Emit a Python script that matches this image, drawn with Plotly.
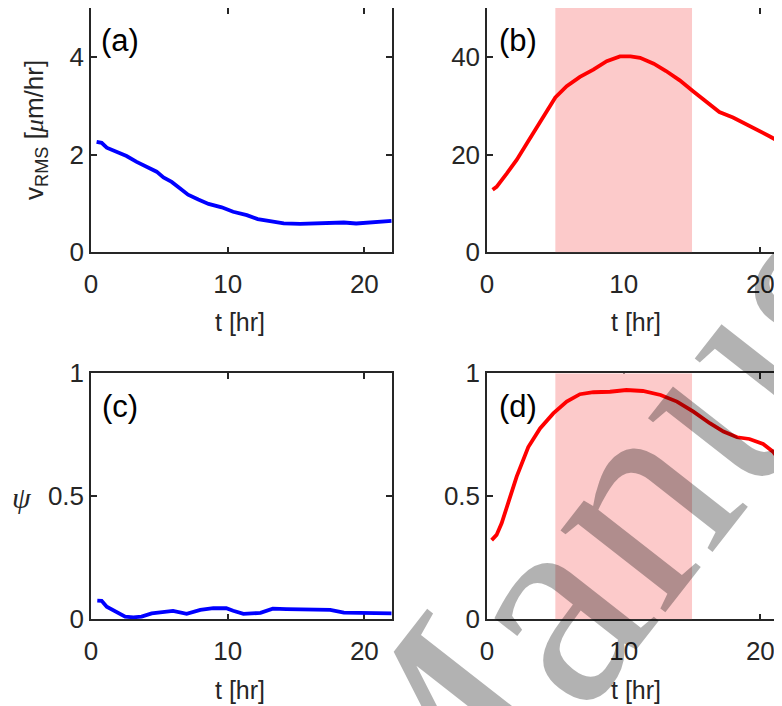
import plotly.graph_objects as go

W, H = 782, 706          # browser window
OFF = 8                  # default page margin of the html body
FW, FH = W - OFF, H - OFF  # figure size so that it ends exactly at the window edge

# ---------------- data ----------------
t_a = [0.41, 0.78, 1.15, 1.88, 2.6, 3.34, 4.07, 4.8, 5.3, 5.9, 6.5, 7.1, 7.85, 8.6, 9.56,
       10.4, 11.4, 12.2, 13.1, 14.1, 15.3, 16.5, 17.7, 18.5, 19.4, 20.4, 21.4, 22.0]
v_a = [2.26, 2.24, 2.14, 2.05, 1.97, 1.85, 1.75, 1.65, 1.53, 1.44, 1.31, 1.18, 1.08, 0.99, 0.92,
       0.83, 0.76, 0.68, 0.64, 0.59, 0.58, 0.585, 0.605, 0.61, 0.59, 0.605, 0.63, 0.645]

t_b = [0.41, 0.7, 1.44, 2.17, 2.9, 3.63, 4.37, 5.0, 5.83, 6.8, 7.78, 8.76, 9.73, 10.5, 11.2,
       12.2, 13.1, 14.1, 15.1, 16.1, 17.0, 18.0, 19.0, 20.0, 20.7, 21.6, 22.0]
v_b = [12.8, 13.4, 16.1, 18.9, 22.2, 25.6, 29.0, 31.7, 34.0, 35.9, 37.4, 39.1, 40.1, 40.1, 39.8,
       38.6, 37.1, 35.2, 32.9, 30.6, 28.7, 27.6, 26.2, 24.7, 23.7, 22.3, 21.6]

t_c = [0.46, 0.78, 1.15, 1.76, 2.5, 3.1, 3.7, 4.44, 5.05, 6.0, 7.0, 8.0, 8.95, 9.9, 10.4,
       11.15, 12.4, 13.3, 14.3, 15.3, 16.5, 17.5, 18.5, 19.7, 20.9, 22.0]
psi_c = [0.076, 0.075, 0.051, 0.031, 0.011, 0.008, 0.011, 0.024, 0.028, 0.034, 0.022, 0.038,
         0.045, 0.045, 0.035, 0.022, 0.026, 0.043, 0.041, 0.039, 0.038, 0.038, 0.027, 0.026,
         0.027, 0.024]

t_d = [0.34, 0.7, 1.07, 1.44, 2.17, 3.02, 3.88, 4.85, 5.83, 6.8, 7.78, 9.0, 10.2, 11.4, 12.7,
       13.9, 15.1, 16.3, 17.3, 18.3, 19.2, 20.2, 20.95, 21.6, 22.0]
psi_d = [0.322, 0.343, 0.39, 0.458, 0.58, 0.70, 0.776, 0.837, 0.885, 0.915, 0.923, 0.925, 0.932,
         0.928, 0.912, 0.885, 0.844, 0.797, 0.763, 0.74, 0.733, 0.713, 0.68, 0.634, 0.60]

shade_t = [5, 15]           # shaded time window [hr]
x_ticks = [0, 10, 20]
y_ticks_a = [0, 2, 4]
y_ticks_b = [0, 20, 40]
y_ticks_cd = [0, 0.5, 1]
panel_labels = ["(a)", "(b)", "(c)", "(d)"]

# ---------------- layout geometry (window pixels) ----------------
AX_COL = "#262626"
FONT = "Liberation Sans, Arial, Helvetica, sans-serif"
SERIF = "Liberation Serif, Times New Roman, serif"

left_x = (91, 391.7)
right_x0 = 487
top_y = (5.7, 252.3)
bot_y = (373.3, 619.3)
px_per_hr = (left_x[1] - left_x[0]) / 22.0
right_xmax = (W - right_x0) / px_per_hr


def fx(p):
    return (p - OFF) / FW


def fy(p):
    return 1 - (p - OFF) / FH


def dom_x(a, b):
    return [max(fx(a), 0.0), min(fx(b), 1.0)]


def dom_y(top, bottom):
    return [max(fy(bottom), 0.0), min(fy(top), 1.0)]


fig = go.Figure()

blue = "#0000ff"
red = "#ff0000"
pink = "#fccaca"
LW = 3.8


def shade(xa, ya, ymax):
    fig.add_trace(go.Scatter(
        x=[shade_t[0], shade_t[1], shade_t[1], shade_t[0], shade_t[0]],
        y=[0, 0, ymax, ymax, 0], fill="toself", fillcolor=pink,
        mode="lines", line=dict(width=0, color=pink), hoverinfo="skip",
        xaxis=xa, yaxis=ya, showlegend=False))


fig.add_trace(go.Scatter(x=t_a, y=v_a, mode="lines", line=dict(color=blue, width=LW),
                         xaxis="x", yaxis="y", showlegend=False))
shade("x2", "y2", 50)
fig.add_trace(go.Scatter(x=t_b, y=v_b, mode="lines", line=dict(color=red, width=LW),
                         xaxis="x2", yaxis="y2", showlegend=False))
fig.add_trace(go.Scatter(x=t_c, y=psi_c, mode="lines", line=dict(color=blue, width=LW),
                         xaxis="x3", yaxis="y3", showlegend=False))
shade("x4", "y4", 1)
fig.add_trace(go.Scatter(x=t_d, y=psi_d, mode="lines", line=dict(color=red, width=LW),
                         xaxis="x4", yaxis="y4", showlegend=False))

common = dict(showline=True, linecolor=AX_COL, linewidth=1.5, ticks="inside", ticklen=6,
              tickwidth=1.5, tickcolor=AX_COL, showgrid=False, zeroline=False,
              layer="below traces", fixedrange=True, automargin=False,
              tickfont=dict(family=FONT, size=26, color=AX_COL))
xcommon = dict(common, ticklabelstandoff=8)

fig.update_layout(
    width=FW, height=FH, autosize=False,
    margin=dict(l=0, r=0, t=0, b=0, pad=0),
    paper_bgcolor="white", plot_bgcolor="white",
    xaxis=dict(domain=dom_x(*left_x), anchor="y", range=[0, 22], tickvals=x_ticks,
               mirror="ticks", **xcommon),
    yaxis=dict(domain=dom_y(*top_y), anchor="x", range=[0, 5], tickvals=y_ticks_a,
               mirror="ticks", **common),
    xaxis2=dict(domain=dom_x(right_x0, W), anchor="y2", range=[0, right_xmax],
                tickvals=x_ticks, mirror="ticks", **xcommon),
    yaxis2=dict(domain=dom_y(*top_y), anchor="x2", range=[0, 50], tickvals=y_ticks_b,
                **common),
    xaxis3=dict(domain=dom_x(*left_x), anchor="y3", range=[0, 22], tickvals=x_ticks,
                mirror="ticks", **xcommon),
    yaxis3=dict(domain=dom_y(*bot_y), anchor="x3", range=[0, 1], tickvals=y_ticks_cd,
                ticktext=["0", "0.5", "1"], mirror="ticks", **common),
    xaxis4=dict(domain=dom_x(right_x0, W), anchor="y4", range=[0, right_xmax],
                tickvals=x_ticks, mirror="ticks", **xcommon),
    yaxis4=dict(domain=dom_y(*bot_y), anchor="x4", range=[0, 1], tickvals=y_ticks_cd,
                ticktext=["0", "0.5", "1"], **common),
)

ann = []


def add_text(text, xp, yp, size=26, family=FONT, color=AX_COL, angle=0):
    ann.append(dict(text=text, x=fx(xp), y=fy(yp), xref="paper", yref="paper",
                    showarrow=False, xanchor="center", yanchor="middle", textangle=angle,
                    font=dict(family=family, size=size, color=color)))


# panel labels
label_pos = [(120, 40), (518, 40), (120, 406), (518, 406)]
for lab, (xp, yp) in zip(panel_labels, label_pos):
    add_text(lab, xp, yp, size=31, color="#000000")

# x-axis titles
for xp, yp in [(240, 322), (636, 322), (240, 690), (636, 690)]:
    add_text("t [hr]", xp, yp, size=25)

# y-axis titles
add_text("v<sub>RMS</sub> [<span style='font-family:Liberation Serif'><i>μ</i></span>m/hr]",
         36, 130, size=26, angle=-90)
add_text("<i>ψ</i>", 22, 497, size=30, family=SERIF)

# watermark
ann.append(dict(text="Manuscript", x=fx(753), y=fy(341), xref="paper", yref="paper",
                showarrow=False, xanchor="center", yanchor="middle", textangle=-52,
                font=dict(family=SERIF, size=290, color="rgba(0,0,0,0.3)")))

fig.update_layout(annotations=ann)

fig.write_html("out.html", config=dict(displayModeBar=False))
